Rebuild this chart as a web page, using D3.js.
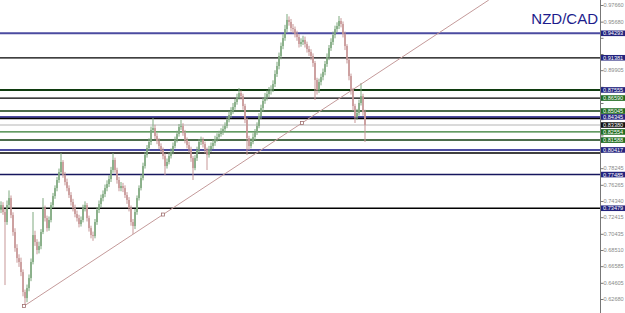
<!DOCTYPE html>
<html>
<head>
<meta charset="utf-8">
<script src="https://cdn.jsdelivr.net/npm/d3@7"></script>
<style>
  body { margin: 0; background: #fff; }
  svg { display: block; }
</style>
</head>
<body>
<svg id="chart" width="625" height="313"></svg>
<script>
//
// Data
//
var title = "NZD/CAD";

var closes = [
  0.7386, 0.7303, 0.7184, 0.7386, 0.7469, 0.7267, 0.7065, 0.6874, 0.6755, 0.6708,
  0.6589, 0.6351, 0.6279, 0.6398, 0.6517, 0.6708, 0.7029, 0.6946, 0.6851, 0.6898,
  0.7065, 0.7350, 0.7231, 0.7112, 0.7208, 0.7386, 0.7493, 0.7588, 0.7684, 0.7779,
  0.7898, 0.7743, 0.7660, 0.7588, 0.7505, 0.7422, 0.7350, 0.7279, 0.7231, 0.7160,
  0.7208, 0.7350, 0.7386, 0.7231, 0.7112, 0.7029, 0.7017, 0.7184, 0.7327, 0.7398,
  0.7469, 0.7517, 0.7588, 0.7636, 0.7695, 0.7803, 0.7922, 0.7803, 0.7684, 0.7588,
  0.7612, 0.7588, 0.7505, 0.7446, 0.7350, 0.7184, 0.7136, 0.7303, 0.7469, 0.7588,
  0.7707, 0.7850, 0.7981, 0.8064, 0.8136, 0.8279, 0.8302, 0.8207, 0.8148, 0.8088,
  0.8041, 0.7969, 0.7850, 0.7898, 0.7969, 0.8017, 0.8088, 0.8160, 0.8231, 0.8314,
  0.8326, 0.8243, 0.8160, 0.8100, 0.8052, 0.7945, 0.7826, 0.7945, 0.8041, 0.8136,
  0.8160, 0.8112, 0.8041, 0.7981, 0.8052, 0.8088, 0.8124, 0.8171, 0.8195, 0.8231,
  0.8255, 0.8290, 0.8326, 0.8398, 0.8457, 0.8505, 0.8552, 0.8612, 0.8671, 0.8719,
  0.8683, 0.8564, 0.8398, 0.8183, 0.8088, 0.8136, 0.8195, 0.8255, 0.8326, 0.8445,
  0.8540, 0.8624, 0.8671, 0.8707, 0.8743, 0.8766, 0.8826, 0.8945, 0.9040, 0.9159,
  0.9278, 0.9373, 0.9480, 0.9588, 0.9564, 0.9492, 0.9480, 0.9421, 0.9385, 0.9302,
  0.9326, 0.9350, 0.9302, 0.9242, 0.9207, 0.9159, 0.9076, 0.8874, 0.8755, 0.8850,
  0.8909, 0.8969, 0.9064, 0.9147, 0.9254, 0.9326, 0.9409, 0.9480, 0.9516, 0.9576,
  0.9540, 0.9421, 0.9278, 0.9112, 0.8921, 0.8755, 0.8564, 0.8433, 0.8481, 0.8600,
  0.8683, 0.8493, 0.8338
];

var highs = [
  0.7430, 0.7420, 0.7340, 0.7440, 0.7560, 0.7500, 0.7300, 0.7110, 0.6920, 0.6800,
  0.6760, 0.6620, 0.6380, 0.6440, 0.6560, 0.6750, 0.7303, 0.7080, 0.6980, 0.6950,
  0.7100, 0.7469, 0.7380, 0.7260, 0.7250, 0.7420, 0.7530, 0.7620, 0.7720, 0.7820,
  0.8005, 0.7920, 0.7780, 0.7700, 0.7620, 0.7540, 0.7460, 0.7390, 0.7320, 0.7270,
  0.7250, 0.7390, 0.7430, 0.7410, 0.7260, 0.7140, 0.7070, 0.7220, 0.7360, 0.7440,
  0.7510, 0.7560, 0.7630, 0.7680, 0.7740, 0.7840, 0.8005, 0.7950, 0.7830, 0.7720,
  0.7660, 0.7650, 0.7620, 0.7540, 0.7480, 0.7380, 0.7220, 0.7340, 0.7500, 0.7620,
  0.7750, 0.7890, 0.8020, 0.8100, 0.8180, 0.8320, 0.8421, 0.8340, 0.8240, 0.8180,
  0.8120, 0.8070, 0.8000, 0.7940, 0.8010, 0.8060, 0.8130, 0.8200, 0.8270, 0.8350,
  0.8398, 0.8360, 0.8280, 0.8190, 0.8140, 0.8080, 0.7970, 0.7980, 0.8080, 0.8170,
  0.8200, 0.8190, 0.8140, 0.8070, 0.8090, 0.8130, 0.8160, 0.8210, 0.8240, 0.8270,
  0.8300, 0.8330, 0.8370, 0.8440, 0.8500, 0.8550, 0.8600, 0.8650, 0.8710, 0.8778,
  0.8750, 0.8710, 0.8590, 0.8420, 0.8210, 0.8180, 0.8240, 0.8290, 0.8370, 0.8480,
  0.8580, 0.8660, 0.8720, 0.8750, 0.8790, 0.8810, 0.8870, 0.8990, 0.9090, 0.9200,
  0.9320, 0.9420, 0.9530, 0.9659, 0.9630, 0.9600, 0.9540, 0.9510, 0.9460, 0.9420,
  0.9370, 0.9400, 0.9390, 0.9330, 0.9280, 0.9240, 0.9190, 0.9100, 0.8900, 0.8890,
  0.8950, 0.9010, 0.9100, 0.9190, 0.9290, 0.9370, 0.9450, 0.9520, 0.9560, 0.9635,
  0.9610, 0.9570, 0.9450, 0.9300, 0.9140, 0.8950, 0.8780, 0.8590, 0.8530, 0.8640,
  0.8838, 0.8710, 0.8520
];

var lows = [
  0.7290, 0.7270, 0.6434, 0.7150, 0.7350, 0.7230, 0.7020, 0.6830, 0.6700, 0.6650,
  0.6540, 0.6300, 0.6184, 0.6230, 0.6360, 0.6480, 0.6680, 0.6900, 0.6800, 0.6810,
  0.6860, 0.7040, 0.7190, 0.7070, 0.7080, 0.7180, 0.7350, 0.7460, 0.7550, 0.7650,
  0.7750, 0.7710, 0.7620, 0.7550, 0.7470, 0.7380, 0.7310, 0.7240, 0.7190, 0.7120,
  0.7130, 0.7180, 0.7310, 0.7190, 0.7070, 0.6990, 0.6960, 0.6990, 0.7150, 0.7290,
  0.7360, 0.7430, 0.7480, 0.7550, 0.7600, 0.7660, 0.7770, 0.7770, 0.7640, 0.7550,
  0.7550, 0.7540, 0.7470, 0.7400, 0.7310, 0.7140, 0.7041, 0.7100, 0.7270, 0.7440,
  0.7560, 0.7680, 0.7820, 0.7950, 0.8030, 0.8100, 0.8250, 0.8170, 0.8110, 0.8050,
  0.8000, 0.7930, 0.7743, 0.7820, 0.7870, 0.7940, 0.7990, 0.8060, 0.8130, 0.8200,
  0.8280, 0.8210, 0.8120, 0.8060, 0.8010, 0.7900, 0.7684, 0.7800, 0.7910, 0.8010,
  0.8100, 0.8070, 0.8000, 0.7803, 0.7950, 0.8020, 0.8050, 0.8090, 0.8140, 0.8160,
  0.8200, 0.8220, 0.8260, 0.8300, 0.8370, 0.8420, 0.8470, 0.8520, 0.8580, 0.8640,
  0.8640, 0.8520, 0.8360, 0.7981, 0.8040, 0.8060, 0.8110, 0.8160, 0.8220, 0.8300,
  0.8410, 0.8500, 0.8590, 0.8630, 0.8670, 0.8700, 0.8730, 0.8790, 0.8910, 0.9000,
  0.9120, 0.9240, 0.9340, 0.9440, 0.9520, 0.9450, 0.9430, 0.9380, 0.9340, 0.9260,
  0.9270, 0.9290, 0.9260, 0.9200, 0.9160, 0.9110, 0.9030, 0.8636, 0.8700, 0.8720,
  0.8810, 0.8870, 0.8930, 0.9030, 0.9110, 0.9220, 0.9290, 0.9370, 0.9440, 0.9480,
  0.9500, 0.9380, 0.9230, 0.9070, 0.8870, 0.8700, 0.8510, 0.8362, 0.8400, 0.8450,
  0.8570, 0.8450, 0.8136
];

var firstOpen = 0.7330;

// horizontal levels: price, line colour, line width, label box colour (null = no box)
var levels = [0.94293, 0.91381, 0.87555, 0.86590, 0.85045, 0.84345, 0.84154, 0.82554, 0.81588, 0.80417, 0.80050, 0.77485, 0.73479];
var levelLine = ["#4b4ba0", "#000000", "#103c10", "#000000", "#103c10", "#4b4ba0", "#000000", "#2f7a2f", "#103c10", "#4b4ba0", "#000000", "#16165e", "#000000"];
var levelWidth = [2, 1.3, 2, 1.3, 1.5, 2, 1.3, 1.3, 1.5, 2, 1.3, 1.5, 1.3];
var levelBox = ["#23237e", "#23237e", "#23237e", "#1f6b1f", "#1f6b1f", "#23237e", null, "#1f6b1f", "#1f6b1f", "#23237e", null, "#23237e", "#23237e"];

var tickValues = [0.97660, 0.95680, 0.93755, 0.91830, 0.89905, 0.87925, 0.86000, 0.84075, 0.82150,
  0.80170, 0.78245, 0.76265, 0.74340, 0.72415, 0.70435, 0.68510, 0.66585, 0.64605, 0.62680];

// trend line anchors: [bar index, price]
var trendA = [11.5, 0.6184];
var trendB = [150.5, 0.8362];

//
// Scales
//
var W = 625, H = 313, plotRight = 600;
var svg = d3.select("#chart");
var labelFont = "Liberation Sans, Arial, sans-serif";

var x = d3.scaleLinear().domain([0, closes.length - 1]).range([1, 365]);
var y = d3.scaleLinear().domain([0.61015, 0.98255]).range([H, 0]);

var bid = closes[closes.length - 1];
var bars = closes.map(function(c, i) {
  return { i: i, o: i == 0 ? firstOpen : closes[i - 1], c: c, h: highs[i], l: lows[i] };
});

// bid line (light grey)
svg.append("line")
  .attr("x1", 0).attr("x2", plotRight)
  .attr("y1", y(bid)).attr("y2", y(bid))
  .attr("stroke", "#dadada").attr("stroke-width", 2);

// levels
svg.selectAll(".level").data(levels).enter().append("line")
  .attr("class", "level")
  .attr("x1", 0).attr("x2", plotRight)
  .attr("y1", function(d) { return y(d); })
  .attr("y2", function(d) { return y(d); })
  .attr("stroke", function(d, i) { return levelLine[i]; })
  .attr("stroke-width", function(d, i) { return levelWidth[i]; });

// candles
var up = "#7fa97f", down = "#c79797";
var candle = svg.append("g").selectAll("g").data(bars).enter().append("g");
candle.append("line")
  .attr("x1", function(d) { return x(d.i); })
  .attr("x2", function(d) { return x(d.i); })
  .attr("y1", function(d) { return y(d.h); })
  .attr("y2", function(d) { return y(d.l); })
  .attr("stroke", function(d) { return d.c >= d.o ? up : down; })
  .attr("stroke-width", 1);
candle.append("rect")
  .attr("x", function(d) { return x(d.i) - 0.8; })
  .attr("width", 1.6)
  .attr("y", function(d) { return y(Math.max(d.o, d.c)); })
  .attr("height", function(d) { return Math.max(1, Math.abs(y(d.o) - y(d.c))); })
  .attr("fill", function(d) { return d.c >= d.o ? up : down; });

// trend line, extended to the top edge
var ax = x(trendA[0]), ay = y(trendA[1]), bx = x(trendB[0]), by = y(trendB[1]);
var slope = (by - ay) / (bx - ax);
var topX = ax + (0 - ay) / slope;
svg.append("line")
  .attr("x1", ax).attr("y1", ay).attr("x2", topX).attr("y2", 0)
  .attr("stroke", "#c49a9a").attr("stroke-width", 1);
[[ax, ay], [(ax + bx) / 2, (ay + by) / 2], [bx, by]].forEach(function(p) {
  svg.append("rect")
    .attr("x", p[0] - 1.5).attr("y", p[1] - 1.5)
    .attr("width", 3).attr("height", 3)
    .attr("fill", "#fff").attr("stroke", "#a07070").attr("stroke-width", 0.8);
});

// price boxes (collect positions so hidden tick labels can be dropped)
var boxes = [];
levels.forEach(function(d, i) { if (levelBox[i]) boxes.push([d, levelBox[i]]); });
boxes.push([bid, "#111111"]);

// right axis
var axis = d3.axisRight(y).tickValues(tickValues).tickSize(3)
  .tickFormat(function(d) { return d.toFixed(5); });
var gAxis = svg.append("g").attr("transform", "translate(" + (plotRight + 0.5) + ",0)").call(axis);
gAxis.select(".domain").attr("stroke", "#777").attr("d", "M0,0V" + H);
gAxis.selectAll(".tick line").attr("stroke", "#777");
gAxis.selectAll(".tick text")
  .attr("x", 3).attr("fill", "#8a8a8a")
  .style("font-family", labelFont).style("font-size", "5.6px")
  .style("display", function(d) {
    var covered = boxes.some(function(b) { return Math.abs(y(b[0]) - y(d)) < 6; });
    return covered ? "none" : null;
  });

function drawBox(price, color) {
  var g = svg.append("g").attr("transform", "translate(" + (plotRight + 1) + "," + y(price) + ")");
  g.append("rect").attr("x", 0).attr("y", -2.8).attr("width", W - plotRight - 1).attr("height", 5.6).attr("fill", color);
  g.append("text").attr("x", 2).attr("y", 2).attr("fill", "#fff")
    .style("font-family", labelFont).style("font-size", "5.6px")
    .text(price.toFixed(5));
}
boxes.forEach(function(b) { drawBox(b[0], b[1]); });

// title
svg.append("text")
  .attr("x", 598).attr("y", 24)
  .attr("text-anchor", "end")
  .attr("fill", "#1c1c8c")
  .style("font-family", labelFont)
  .style("font-size", "15px")
  .text(title);
</script>
</body>
</html>
